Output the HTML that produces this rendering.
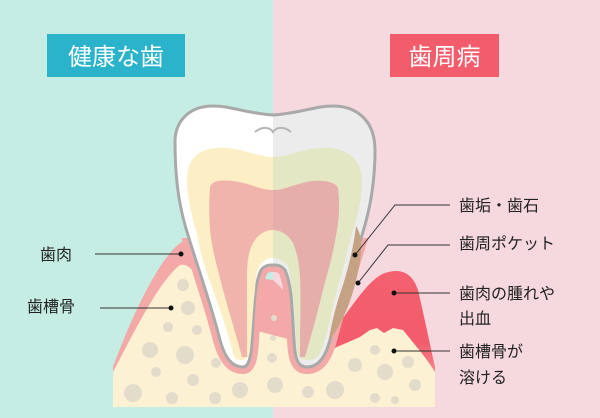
<!DOCTYPE html>
<html><head><meta charset="utf-8"><style>
html,body{margin:0;padding:0;width:600px;height:418px;overflow:hidden}
svg text{font-family:"Liberation Sans","Noto Sans CJK JP",sans-serif}
</style></head><body>
<svg width="600" height="418" viewBox="0 0 600 418" xmlns="http://www.w3.org/2000/svg">
<defs>
<clipPath id="L"><rect x="0" y="0" width="273" height="418"/></clipPath>
<clipPath id="R"><rect x="273" y="0" width="327" height="418"/></clipPath>
<clipPath id="low"><rect x="0" y="238" width="600" height="180"/></clipPath>
<linearGradient id="rg" x1="0" y1="0" x2="0" y2="1">
<stop offset="0" stop-color="#f4606e"/><stop offset="0.55" stop-color="#f25c6c"/><stop offset="1" stop-color="#f4a9ac"/></linearGradient>
<path id="tooth" d="M175,140 C176,120 190,106 213,106 C232,106 244,113 273,115 C302,113 314,106 333,106 C356,106 375,120 375,150 C375,175 372,200 365,225 C355,260 340,300 330,340 C325,358 318,367 307,367 C298,367 295,360 294,340 C292,310 292,285 285,270 C281,265 277,265 273,265 C269,265 265,265 261,270 C254,285 254,310 252,340 C251,360 248,367 243,367 C232,367 225,358 220,340 C210,300 195,260 185,225 C178,200 175,175 175,140 Z"/>
<path id="dent" d="M187,177 C188,160 197,150 215,148 C240,146 255,157 273,157 C291,157 306,146 331,148 C349,150 360,160 362,177 C362,200 358,215 353,230 C346,255 342,275 337,290 C330,320 326,340 320,353 C316,360 312,360 307,360 C300,360 298,357 297,350 C295,320 294,300 292,290 C290,275 290,266 285,263 C280,259 276,258 273,258 C270,258 266,259 262,263 C257,268 256,275 255,290 C253,305 252,330 250,350 C249,358 246,360 242,360 C236,360 234,358 233,353 C227,330 220,310 213,290 C206,270 200,255 197,233 C191,215 187,195 187,177 Z"/>
<path id="pulp" d="M210,187 C212,180 222,180 233,181 C250,183 260,190 273,190 C286,190 296,183 313,181 C324,180 336,182 338,188 C340,205 339,218 337,230 C333,255 327,275 323,290 C317,315 310,340 305,357 L300,357 C300,330 301,300 300,277 C299,258 295,248 293,243 C288,234 280,230 273,230 C266,230 258,234 253,243 C249,250 247,260 247,277 C247,300 247,330 247,357 L242,357 C236,335 229,312 223,290 C218,270 212,250 210,230 C209,215 209,200 210,187 Z"/>
</defs>
<rect x="0" y="0" width="273" height="418" fill="#c5ede3"/>
<rect x="273" y="0" width="327" height="418" fill="#f6d8df"/>
<rect x="47" y="34" width="138" height="43" fill="#2ab3cb"/>
<text x="116" y="65" font-size="24" fill="#fff" text-anchor="middle">健康な歯</text>
<rect x="390" y="34" width="109" height="43" fill="#f35d6b"/>
<text x="444.5" y="65" font-size="24" fill="#fff" text-anchor="middle">歯周病</text>

<path d="M113,367 C130,320 160,255 182,242 C195,238 200,250 205,270 L273,280 L330,335 L330,400 L113,400 Z" fill="#f3a9a8"/>
<path d="M325,340 C345,320 365,280 385,273 C400,268 412,272 418,290 C425,320 430,345 435,367 L435,400 L320,400 Z" fill="url(#rg)"/>
<path d="M113,372 C135,330 160,280 180,265 C195,262 205,290 215,320 L330,350 L360,337 L370,330 L377,328 L384,333 L393,328 L403,330 C415,345 428,360 435,372 L435,407 L113,407 Z" fill="#fdf1d4"/>
<g fill="#e4dccb">
<circle cx="183" cy="285" r="6"/><circle cx="188" cy="308" r="7"/><circle cx="168" cy="327" r="5"/><circle cx="197" cy="330" r="5"/><circle cx="150" cy="350" r="8"/><circle cx="185" cy="355" r="9"/><circle cx="156" cy="372" r="5"/><circle cx="193" cy="380" r="6"/><circle cx="133" cy="393" r="9"/><circle cx="172" cy="398" r="6"/><circle cx="216" cy="363" r="5"/><circle cx="215" cy="398" r="6"/><circle cx="240" cy="390" r="8"/><circle cx="274" cy="318" r="3"/><circle cx="273" cy="338" r="3"/><circle cx="272" cy="358" r="5"/><circle cx="275" cy="385" r="8"/><circle cx="308" cy="392" r="6"/><circle cx="335" cy="390" r="9"/><circle cx="355" cy="365" r="7"/><circle cx="375" cy="350" r="5"/><circle cx="385" cy="372" r="8"/><circle cx="375" cy="398" r="5"/><circle cx="408" cy="362" r="6"/><circle cx="415" cy="385" r="6"/><circle cx="395" cy="400" r="4"/>
</g>
<use href="#tooth" fill="none" stroke="#f3a9a8" stroke-width="14" clip-path="url(#low)"/>
<use href="#tooth" fill="#ffffff" stroke="#a9a9a9" stroke-width="3" clip-path="url(#L)"/>
<use href="#tooth" fill="#ececec" stroke="#a9a9a9" stroke-width="3" clip-path="url(#R)"/>
<use href="#dent" fill="#fcefc6" clip-path="url(#L)"/>
<use href="#dent" fill="#e4e7c3" clip-path="url(#R)"/>
<use href="#pulp" fill="#f1b4ad" clip-path="url(#L)"/>
<use href="#pulp" fill="#e6aeaa" clip-path="url(#R)"/>
<path d="M255,132 C262,126 270,127 273,132 C276,127 284,126 291,132" fill="none" stroke="#b5b5b5" stroke-width="2"/>
<path d="M356,226 C362,235 363,250 358,272 C352,300 342,325 329,340 C331,325 336,305 343,285 C349,265 354,245 356,226 Z" fill="#c4a283"/>
<text x="40" y="260" font-size="16" fill="#222">歯肉</text>
<line x1="95" y1="254" x2="181" y2="254" stroke="#333" stroke-width="1"/>
<circle cx="181" cy="254" r="2.5" fill="#111"/>
<text x="27" y="312" font-size="16" fill="#222">歯槽骨</text>
<line x1="100" y1="308" x2="171" y2="308" stroke="#333" stroke-width="1"/>
<circle cx="171" cy="308" r="2.5" fill="#111"/>
<g stroke="#333" stroke-width="1" fill="none">
<polyline points="450,205 395,205 355,255"/>
<polyline points="450,245 388,245 358,283"/>
<line x1="394" y1="293" x2="450" y2="293"/>
<line x1="394" y1="351" x2="450" y2="351"/>
</g>
<g fill="#111"><circle cx="355" cy="255" r="2.5"/><circle cx="358" cy="283" r="2.5"/><circle cx="394" cy="293" r="2.5"/><circle cx="394" cy="351" r="2.5"/></g>
<g font-size="16" fill="#222">
<text x="459" y="211">歯垢・歯石</text>
<text x="459" y="249">歯周ポケット</text>
<text x="459" y="299">歯肉の腫れや</text>
<text x="459" y="324">出血</text>
<text x="459" y="357">歯槽骨が</text>
<text x="459" y="383">溶ける</text>
</g>
</svg>
</body></html>
